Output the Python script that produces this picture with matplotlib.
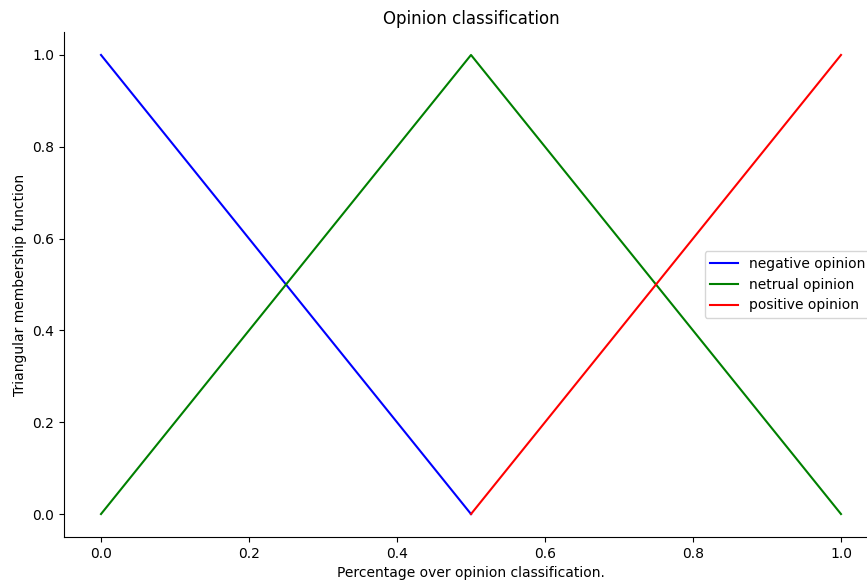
import matplotlib
matplotlib.use("Agg")
import matplotlib.pyplot as plt
import numpy as np

# Universe of discourse and triangular membership breakpoints
x_points = [0.0, 0.5, 1.0]
negative = [1.0, 0.0]
negative_x = [0.0, 0.5]
neutral = [0.0, 1.0, 0.0]
neutral_x = [0.0, 0.5, 1.0]
positive = [0.0, 1.0]
positive_x = [0.5, 1.0]

fig = plt.figure(figsize=(8.67, 5.8), dpi=100)
ax = fig.add_axes([64 / 867, 43 / 580, (878 - 64) / 867, (537 - 32) / 580])

ax.plot(negative_x, negative, 'b', linewidth=1.5, label='negative opinion')
ax.plot(neutral_x, neutral, 'g', linewidth=1.5, label='netrual opinion')
ax.plot(positive_x, positive, 'r', linewidth=1.5, label='positive opinion')

ax.set_title('Opinion classification')
ax.set_xlabel('Percentage over opinion classification.')
ax.set_ylabel('Triangular membership function')
ax.legend(loc='center right')

ax.spines['top'].set_visible(False)
ax.spines['right'].set_visible(False)
ax.get_xaxis().tick_bottom()
ax.get_yaxis().tick_left()

fig.savefig('out.png', dpi=100)
